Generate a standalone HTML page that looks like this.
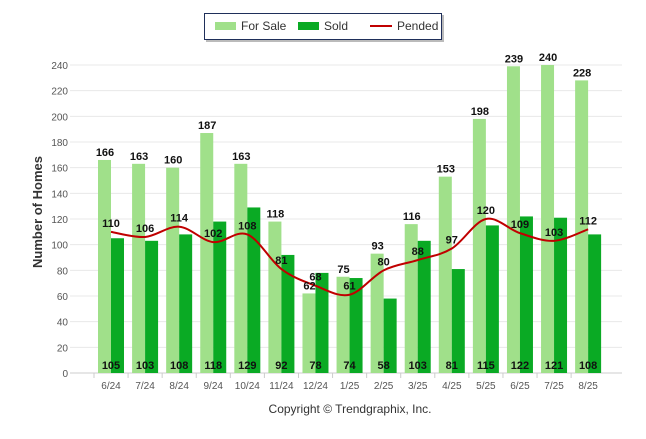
<!DOCTYPE html>
<html><head><meta charset="utf-8"><style>
body{margin:0;background:#fff;}
svg text{font-family:"Liberation Sans",Arial,sans-serif;}
</style></head><body>
<svg id="chart" width="646" height="434" xmlns="http://www.w3.org/2000/svg">
<g id="legend">
<rect x="206" y="15" width="238" height="27" fill="#bbb"/>
<rect x="204.5" y="13.5" width="237" height="26" fill="#fff" stroke="#1f2f5a" stroke-width="1"/>
<rect x="215" y="22" width="21" height="8" fill="#a0e08a"/>
<text x="241" y="30" font-size="12" fill="#333">For Sale</text>
<rect x="298" y="22" width="21" height="8" fill="#0aaa24"/>
<text x="324" y="30" font-size="12" fill="#333">Sold</text>
<line x1="370" y1="26" x2="392" y2="26" stroke="#c00000" stroke-width="2"/>
<text x="397" y="30" font-size="12" fill="#333">Pended</text>
</g>
<g id="grid"></g><g id="bars"></g><g id="line"></g><g id="labels"></g>
<text transform="translate(42,212) rotate(-90)" text-anchor="middle" font-size="13" font-weight="bold" fill="#333">Number of Homes</text>
<text x="350" y="413" text-anchor="middle" font-size="12" fill="#333">Copyright © Trendgraphix, Inc.</text>
</svg>
<script>
const categories=["6/24","7/24","8/24","9/24","10/24","11/24","12/24","1/25","2/25","3/25","4/25","5/25","6/25","7/25","8/25"];
const forSale=[166,163,160,187,163,118,62,75,93,116,153,198,239,240,228];
const sold=[105,103,108,118,129,92,78,74,58,103,81,115,122,121,108];
const pended=[110,106,114,102,108,81,68,61,80,88,97,120,109,103,112];
const yTicks=[0,20,40,60,80,100,120,140,160,180,200,220,240];
const NS="http://www.w3.org/2000/svg";
function y(v){return 373-v*308/240;}
function x(i){return 111+34.08*i;}
function mk(tag,attrs,parent){const e=document.createElementNS(NS,tag);for(const k in attrs)e.setAttribute(k,attrs[k]);document.getElementById(parent).appendChild(e);return e;}
yTicks.forEach(t=>{
  const l=mk('line',{x1:70,x2:622,y1:y(t),y2:y(t),stroke:t===0?'#ccc':'#e8e8e8','stroke-width':1},'grid');
  
  
  const tx=mk('text',{x:68,y:y(t)+4,'text-anchor':'end','font-size':10,fill:'#555'},'grid');
  tx.textContent=t;
  
  
});
categories.forEach((c,i)=>{
  const tk=mk('line',{x1:x(i)-17,x2:x(i)-17,y1:373,y2:378,stroke:'#ccc'},'grid');
  
  
  const t=mk('text',{x:x(i),y:389,'text-anchor':'middle','font-size':10,fill:'#555'},'grid');
  t.textContent=c;
  
  
  const b1=mk('rect',{x:x(i)-13,y:y(forSale[i]),width:13,height:373-y(forSale[i]),fill:'#a0e08a'},'bars');
  
  
  const b2=mk('rect',{x:x(i),y:y(sold[i]),width:13,height:373-y(sold[i]),fill:'#0aaa24'},'bars');
  
  
  const l1=mk('text',{x:x(i)-6,y:y(forSale[i])-4,'text-anchor':'middle','font-size':11,'font-weight':'bold',fill:'#111'},'labels');
  l1.textContent=forSale[i];
  
  
  const l2=mk('text',{x:x(i),y:369,'text-anchor':'middle','font-size':11,'font-weight':'bold',fill:'#111'},'labels');
  l2.textContent=sold[i];
  
  
  const l3=mk('text',{x:x(i),y:y(pended[i])-5,'text-anchor':'middle','font-size':11,'font-weight':'bold',fill:'#111'},'labels');
  l3.textContent=pended[i];
  
  
});
const pts=pended.map((v,i)=>[x(i),y(v)]);
let d='M'+pts[0][0]+','+pts[0][1];
for(let i=0;i<pts.length-1;i++){
  const p0=pts[Math.max(i-1,0)],p1=pts[i],p2=pts[i+1],p3=pts[Math.min(i+2,pts.length-1)];
  const c1=[p1[0]+(p2[0]-p0[0])/6,p1[1]+(p2[1]-p0[1])/6];
  const c2=[p2[0]-(p3[0]-p1[0])/6,p2[1]-(p3[1]-p1[1])/6];
  d+=' C'+c1+' '+c2+' '+p2;
}
const ln=mk('path',{d:d,fill:'none',stroke:'#c00000','stroke-width':2},'line');


</script>
</body></html>
